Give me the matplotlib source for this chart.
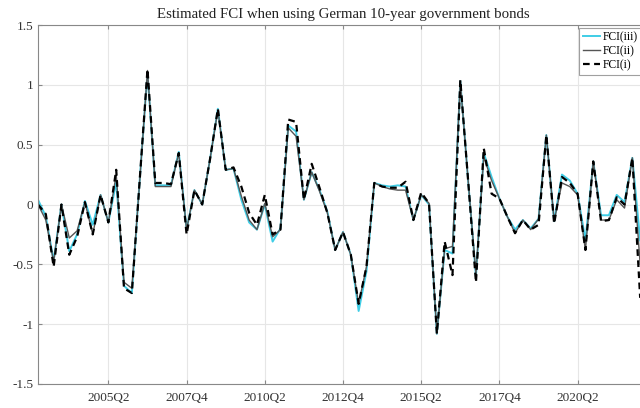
import numpy as np
import matplotlib
matplotlib.use("Agg")
import matplotlib.pyplot as plt

plt.rcParams["font.family"] = ["Liberation Serif", "DejaVu Serif"]

# ── data (quarterly, 2003Q1 … 2022Q2) ───────────────────────────────────────
start_year = 2003
n_q = 78
quarters = [f"{start_year + k // 4}Q{k % 4 + 1}" for k in range(n_q)]

fci_iii = [0.04, -0.10, -0.47, 0.00, -0.39, -0.25, 0.03, -0.17, 0.08, -0.15,
           0.19, -0.68, -0.74, 0.20, 1.10, 0.16, 0.16, 0.16, 0.44, -0.21,
           0.12, 0.00, 0.38, 0.80, 0.29, 0.30, 0.04, -0.15, -0.21, 0.00,
           -0.31, -0.20, 0.66, 0.61, 0.04, 0.27, 0.12, -0.06, -0.38, -0.23,
           -0.42, -0.89, -0.56, 0.18, 0.16, 0.15, 0.16, 0.15, -0.13, 0.08,
           0.00, -1.08, -0.38, -0.41, 1.03, 0.20, -0.60, 0.43, 0.23, 0.05,
           -0.10, -0.21, -0.13, -0.20, -0.12, 0.58, -0.14, 0.25, 0.20, 0.09,
           -0.30, 0.36, -0.09, -0.09, 0.08, 0.02, 0.39, -0.30]
fci_ii = [0.00, -0.13, -0.48, 0.00, -0.28, -0.22, 0.02, -0.25, 0.08, -0.15,
          0.25, -0.65, -0.70, 0.19, 1.12, 0.15, 0.15, 0.15, 0.43, -0.21,
          0.12, 0.00, 0.38, 0.79, 0.29, 0.30, 0.07, -0.13, -0.21, 0.01,
          -0.27, -0.21, 0.64, 0.57, 0.04, 0.27, 0.11, -0.07, -0.38, -0.23,
          -0.42, -0.83, -0.52, 0.18, 0.15, 0.13, 0.12, 0.12, -0.13, 0.08,
          0.01, -1.08, -0.37, -0.35, 1.03, 0.20, -0.58, 0.40, 0.20, 0.05,
          -0.10, -0.24, -0.13, -0.21, -0.12, 0.58, -0.14, 0.18, 0.15, 0.08,
          -0.38, 0.36, -0.13, -0.13, 0.04, -0.03, 0.39, -0.50]
fci_i = [0.00, -0.08, -0.52, 0.00, -0.42, -0.27, 0.02, -0.25, 0.08, -0.15,
         0.29, -0.70, -0.74, 0.20, 1.13, 0.18, 0.18, 0.17, 0.43, -0.25,
         0.12, 0.00, 0.38, 0.80, 0.29, 0.31, 0.15, -0.07, -0.17, 0.08,
         -0.25, -0.21, 0.71, 0.69, 0.04, 0.34, 0.14, -0.07, -0.38, -0.23,
         -0.42, -0.83, -0.52, 0.18, 0.15, 0.14, 0.14, 0.19, -0.13, 0.10,
         0.01, -1.08, -0.31, -0.59, 1.04, 0.20, -0.65, 0.47, 0.09, 0.05,
         -0.10, -0.24, -0.13, -0.21, -0.17, 0.58, -0.16, 0.23, 0.18, 0.09,
         -0.38, 0.36, -0.14, -0.13, 0.06, 0.00, 0.39, -0.78]

tick_labels = ["2005Q2", "2007Q4", "2010Q2", "2012Q4", "2015Q2", "2017Q4", "2020Q2"]
y_ticks = [-1.5, -1, -0.5, 0, 0.5, 1, 1.5]

# ── figure ──────────────────────────────────────────────────────────────────
fig = plt.figure(figsize=(6.4, 4.08), dpi=100)
ax = fig.add_axes([38 / 640, 1 - 384 / 408, 610 / 640, 359 / 408])

x = np.arange(n_q)
ax.plot(x, fci_iii, color="#3fcde6", linewidth=1.4, label="FCI(iii)")
ax.plot(x, fci_ii, color="#555555", linewidth=1.0, label="FCI(ii)")
ax.plot(x, fci_i, color="black", linewidth=1.6, linestyle=(0, (3, 2)), label="FCI(i)")

ax.set_xlim(0, n_q)
ax.set_ylim(-1.5, 1.5)
ax.set_xticks([quarters.index(t) for t in tick_labels])
ax.set_xticklabels(tick_labels)
ax.set_yticks(y_ticks)
ax.set_yticklabels([f"{v:g}" for v in y_ticks])
ax.tick_params(direction="in", length=3, labelsize=9.5, colors="#333333",
               top=True, right=True, color="#888888")
ax.tick_params(axis="x", pad=6)
ax.grid(True, color="#e6e6e6", linewidth=0.8)
ax.set_axisbelow(True)
for s in ax.spines.values():
    s.set_color("#888888")
    s.set_linewidth(0.8)

ax.set_title("Estimated FCI when using German 10-year government bonds",
             fontsize=10.7, pad=5, color="#222222")

leg = ax.legend(loc="upper left", bbox_to_anchor=(579 / 640, 1 - 28 / 408),
                bbox_transform=fig.transFigure, fontsize=8.4, frameon=True,
                fancybox=False, handlelength=1.5, handletextpad=0.2,
                borderpad=0.3, labelspacing=0.15, borderaxespad=0)
leg.get_frame().set_edgecolor("#888888")
leg.get_frame().set_linewidth(0.8)

fig.savefig("out.png", dpi=100)
